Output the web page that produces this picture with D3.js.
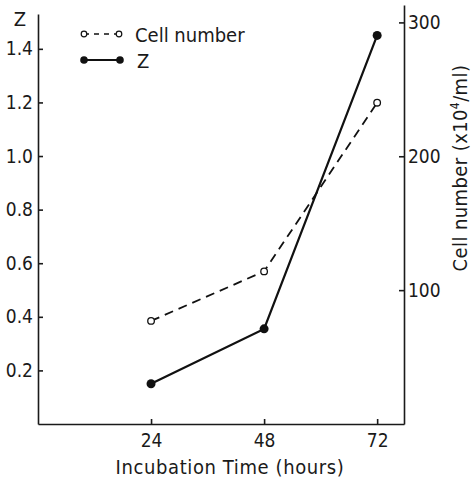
<!DOCTYPE html>
<html>
<head>
<meta charset="utf-8">
<script src="https://cdn.jsdelivr.net/npm/d3@7"></script>
<style>
  body { margin: 0; background: #fff; }
  svg text { font-family: "DejaVu Sans Condensed", "Liberation Sans Narrow", "DejaVu Sans", sans-serif; fill: #1a1a1a; }
  .axis path, .axis line { stroke: #1a1a1a; stroke-width: 1.6; }
  .axis text { font-size: 19px; }
</style>
</head>
<body>
<svg id="chart"></svg>
<script>
const hours = [24, 48, 72];
const zValues = [0.15, 0.355, 1.45];
const cellValues = [77, 114, 240];
const zTicks = [0.2, 0.4, 0.6, 0.8, 1.0, 1.2, 1.4];
const cellTicks = [100, 200, 300];

const width = 471, height = 482;
const left = 38, right = 404, bottom = 424;

const svg = d3.select('#chart')
    .attr('width', width)
    .attr('height', height);

const x = d3.scaleLinear().domain([0, 77.7]).range([left, right]);
const yZ = d3.scaleLinear().domain([0, 1.53]).range([bottom, 14]);
const yCell = d3.scaleLinear().domain([0, 313]).range([bottom, 5]);

// axes
svg.append('g')
    .attr('class', 'axis')
    .attr('transform', `translate(0, ${bottom})`)
    .call(d3.axisBottom(x).tickValues(hours).tickSize(-5).tickSizeOuter(0).tickPadding(10));

svg.append('g')
    .attr('class', 'axis')
    .attr('transform', `translate(${left}, 0)`)
    .call(d3.axisLeft(yZ).tickValues(zTicks).tickFormat(d3.format('.1f')).tickSize(-5).tickSizeOuter(0).tickPadding(5));

svg.append('g')
    .attr('class', 'axis')
    .attr('transform', `translate(${right}, 0)`)
    .call(d3.axisRight(yCell).tickValues(cellTicks).tickSize(-5).tickSizeOuter(0).tickPadding(4));

svg.selectAll('.axis .domain').attr('fill', 'none');

// axis titles
svg.append('text')
    .attr('x', 20)
    .attr('y', 26)
    .attr('text-anchor', 'middle')
    .style('font-size', '20px')
    .text('Z');

svg.append('text')
    .attr('x', 230)
    .attr('y', 474)
    .attr('text-anchor', 'middle')
    .style('font-size', '20px')
    .style('letter-spacing', '0.6px')
    .text('Incubation  Time (hours)');

svg.append('text')
    .attr('transform', 'translate(467, 168) rotate(-90)')
    .attr('text-anchor', 'middle')
    .style('font-size', '20px')
    .style('letter-spacing', '0.4px')
    .html('Cell number (x10<tspan dy="-8" font-size="12px">4</tspan><tspan dy="8">/ml)</tspan>');

// series
const cellData = hours.map((h, i) => ({ h: h, v: cellValues[i] }));
const zData = hours.map((h, i) => ({ h: h, v: zValues[i] }));

svg.append('path')
    .datum(cellData)
    .attr('fill', 'none')
    .attr('stroke', '#111')
    .attr('stroke-width', 1.8)
    .attr('stroke-dasharray', '9,6')
    .attr('d', d3.line().x(d => x(d.h)).y(d => yCell(d.v)));

svg.append('path')
    .datum(zData)
    .attr('fill', 'none')
    .attr('stroke', '#111')
    .attr('stroke-width', 2.2)
    .attr('d', d3.line().x(d => x(d.h)).y(d => yZ(d.v)));

svg.selectAll('.cell-pt')
    .data(cellData)
    .join('circle')
    .attr('class', 'cell-pt')
    .attr('cx', d => x(d.h))
    .attr('cy', d => yCell(d.v))
    .attr('r', 3.3)
    .attr('fill', '#fff')
    .attr('stroke', '#111')
    .attr('stroke-width', 1.3);

svg.selectAll('.z-pt')
    .data(zData)
    .join('circle')
    .attr('class', 'z-pt')
    .attr('cx', d => x(d.h))
    .attr('cy', d => yZ(d.v))
    .attr('r', 4.5)
    .attr('fill', '#111');

// legend
const legend = svg.append('g').attr('class', 'legend');

legend.append('line')
    .attr('x1', 84).attr('x2', 119).attr('y1', 34).attr('y2', 34)
    .attr('stroke', '#111').attr('stroke-width', 1.5).attr('stroke-dasharray', '5,5');
legend.selectAll('.lc')
    .data([84, 119])
    .join('circle')
    .attr('class', 'lc')
    .attr('cx', d => d).attr('cy', 34).attr('r', 2.8)
    .attr('fill', '#fff').attr('stroke', '#111').attr('stroke-width', 1.2);
legend.append('text')
    .attr('x', 135).attr('y', 42)
    .style('font-size', '20px')
    .text('Cell number');

legend.append('line')
    .attr('x1', 84).attr('x2', 120).attr('y1', 60).attr('y2', 60)
    .attr('stroke', '#111').attr('stroke-width', 2);
legend.selectAll('.lz')
    .data([84, 120])
    .join('circle')
    .attr('class', 'lz')
    .attr('cx', d => d).attr('cy', 60).attr('r', 3.8)
    .attr('fill', '#111');
legend.append('text')
    .attr('x', 137).attr('y', 68)
    .style('font-size', '20px')
    .text('Z');
</script>
</body>
</html>
